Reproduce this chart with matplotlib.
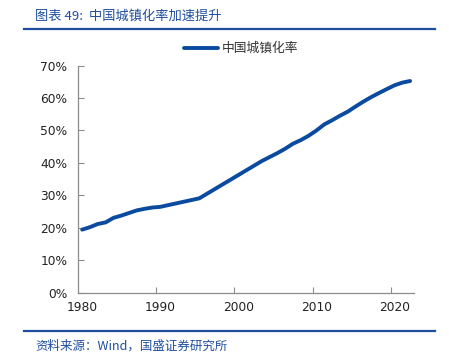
import matplotlib
matplotlib.use("Agg")
import matplotlib.pyplot as plt
from matplotlib.lines import Line2D
from matplotlib.ticker import PercentFormatter, FixedLocator

plt.rcParams['font.family'] = ['DejaVu Sans', 'Noto Sans CJK SC']

# 中国城镇化率（%），1980-2022
years = list(range(1980, 2023))
urban_rate = [19.39, 20.16, 21.13, 21.62, 23.01, 23.71, 24.52, 25.32, 25.81, 26.21,
              26.41, 26.94, 27.46, 27.99, 28.51, 29.04, 30.48, 31.91, 33.35, 34.78,
              36.22, 37.66, 39.09, 40.53, 41.76, 42.99, 44.34, 45.89, 46.99, 48.34,
              49.95, 51.83, 53.10, 54.49, 55.75, 57.33, 58.84, 60.24, 61.50, 62.71,
              63.89, 64.72, 65.22]
label_years = [1980, 1990, 2000, 2010, 2020]

line_color = '#0A4A9F'
title_color = '#1F4E9E'
axis_color = '#8C8C8C'
cjk = ['Noto Sans CJK SC', 'DejaVu Sans']

fig = plt.figure(figsize=(4.49, 3.58), dpi=100)
ax = fig.add_axes([78.3 / 449, 1 - 292.5 / 358, (414 - 78.3) / 449, (292.5 - 65.5) / 358])

ax.plot(years, [v / 100 for v in urban_rate], color=line_color, lw=2.8,
        solid_capstyle='round', label='中国城镇化率')

ax.set_xlim(years[0] - 0.5, years[-1] + 0.5)
ax.set_ylim(0, 0.7)
ax.set_yticks([i / 10 for i in range(8)])
ax.yaxis.set_major_formatter(PercentFormatter(1.0, decimals=0))

# tick marks sit between categories, labels on the categories
ax.xaxis.set_major_locator(FixedLocator([y - 0.5 for y in label_years[1:]]))
ax.xaxis.set_minor_locator(FixedLocator(label_years))
ax.set_xticklabels([], minor=False)
ax.set_xticklabels([str(y) for y in label_years], minor=True)
ax.tick_params(axis='x', which='major', direction='in', length=4, color=axis_color)
ax.tick_params(axis='x', which='minor', length=0, pad=6, labelsize=8.8, labelcolor='#222222')
ax.tick_params(axis='y', direction='in', length=4, color=axis_color, pad=8,
               labelsize=8.8, labelcolor='#222222')

for side in ['top', 'right']:
    ax.spines[side].set_visible(False)
for side in ['left', 'bottom']:
    ax.spines[side].set_color(axis_color)
    ax.spines[side].set_linewidth(0.9)

leg = ax.legend(loc='lower center', bbox_to_anchor=(0.485, 0.995), frameon=False,
                handlelength=2.7, handletextpad=0.3, prop={'family': cjk, 'size': 9.2})
for t in leg.get_texts():
    t.set_color('#333333')

# header / footer
fig.text(35 / 449, 1 - 16 / 358, '图表 49:  中国城镇化率加速提升', family=cjk, fontsize=9.5,
         style='italic', color=title_color, va='center', ha='left')
fig.add_artist(Line2D([24 / 449, 435 / 449], [1 - 28.5 / 358] * 2, color=title_color, lw=1.6))
fig.add_artist(Line2D([24 / 449, 435 / 449], [1 - 331 / 358] * 2, color=title_color, lw=1.6))
fig.text(35 / 449, 1 - 346 / 358, '资料来源：Wind，国盛证券研究所', family=cjk, fontsize=9,
         style='italic', color=title_color, va='center', ha='left')

fig.savefig('out.png', dpi=100)
